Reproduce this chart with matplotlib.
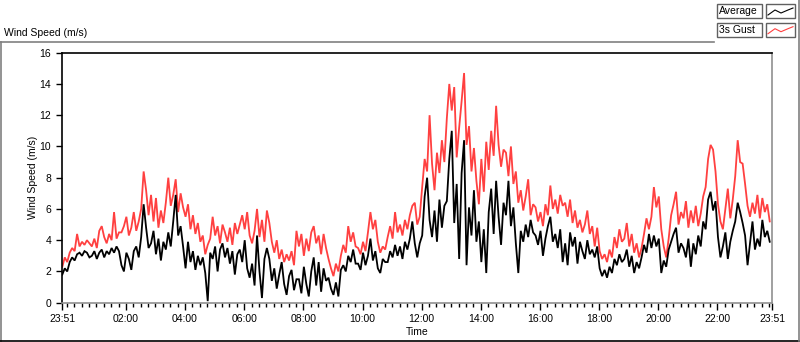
# wind speed chart, average and 3s gust over one day

import matplotlib
matplotlib.use("Agg")
import matplotlib.pyplot as plt
import numpy as np
from matplotlib.lines import Line2D
from matplotlib.patches import Rectangle

# 5 minute samples starting at 23:51, one row per hour
average = [
    1.8, 2.2, 2.0, 2.6, 2.9, 2.7, 3.1, 3.2, 3.0, 3.3, 3.2, 2.9,
    3.0, 3.3, 2.8, 3.2, 3.4, 2.9, 3.3, 3.1, 3.5, 3.2, 3.6, 3.3,
    2.4, 2.0, 3.2, 2.8, 2.1, 3.3, 3.6, 2.9, 4.2, 6.3, 4.8, 3.5,
    3.8, 4.6, 3.1, 4.1, 2.7, 3.9, 3.4, 4.5, 3.6, 5.2, 6.9, 4.3,
    4.9, 3.6, 2.2, 3.9, 2.6, 3.3, 2.1, 3.0, 2.4, 2.9, 1.9, 0.1,
    3.2, 2.8, 3.6, 2.0, 3.4, 3.8, 2.9, 3.5, 2.5, 3.3, 1.8, 3.1,
    3.4, 2.6, 4.0, 2.2, 1.6, 2.5, 1.1, 4.3, 2.0, 0.3, 2.8, 3.5,
    2.8, 1.4, 2.2, 0.9, 1.8, 2.6, 1.2, 0.5, 1.7, 2.1, 0.8, 1.5,
    1.5, 0.6, 2.3, 1.2, 0.4, 2.0, 2.9, 1.1, 2.6, 0.7, 2.2, 1.4,
    1.6, 0.9, 0.5, 1.3, 0.4, 2.1, 2.4, 2.0, 3.0, 2.6, 3.4, 2.5,
    2.5, 2.1, 3.2, 2.4, 3.0, 4.1, 2.7, 3.3, 2.2, 1.9, 2.8, 2.6,
    2.6, 3.3, 2.9, 3.7, 3.0, 3.6, 2.8, 3.9, 3.4, 4.1, 5.2, 3.8,
    2.9, 3.8, 4.3, 6.8, 8.0, 5.3, 4.2, 5.9, 3.9, 6.6, 4.8, 6.2,
    6.5, 9.2, 11.0, 5.1, 7.6, 2.8, 8.3, 10.4, 2.4, 6.1, 4.3, 7.2,
    3.9, 5.2, 2.6, 4.7, 1.9, 5.8, 7.3, 4.4, 7.8, 5.5, 3.7, 6.4,
    5.6, 7.8, 4.9, 6.1, 3.8, 1.9, 4.6, 3.9, 5.0, 4.2, 5.3, 4.5,
    4.3, 3.7, 4.6, 3.0, 4.1, 4.9, 5.5, 3.9, 4.4, 3.5, 4.7, 2.6,
    3.8, 2.4, 4.5, 3.6, 4.2, 2.5, 3.9, 3.3, 2.8, 4.0, 3.1, 3.4,
    2.9, 3.6, 2.2, 1.7, 2.1, 1.6, 2.3, 1.9, 2.8, 2.4, 3.1, 2.6,
    2.8, 3.4, 2.3, 3.0, 1.9, 2.6, 2.2, 2.9, 3.7, 3.2, 4.4, 3.5,
    4.3, 3.6, 4.1, 1.9, 2.7, 2.3, 3.4, 3.9, 4.4, 4.8, 3.2, 3.8,
    3.5, 2.9, 4.1, 2.3, 3.8, 3.1, 4.3, 3.6, 5.2, 4.7, 6.6, 7.1,
    5.9, 6.5, 4.2, 2.9, 3.6, 4.5, 2.8, 3.9, 4.6, 5.2, 6.4, 5.8,
    5.1, 4.3, 2.4, 3.8, 5.2, 3.4, 4.1, 3.6, 5.3, 4.2, 4.6, 3.9,
]

gust = [
    2.3, 2.9, 2.6, 3.2, 3.5, 3.3, 4.4, 3.6, 3.9, 3.7, 4.0, 3.8,
    3.6, 4.1, 3.5, 4.6, 4.9, 4.2, 3.8, 4.4, 4.0, 5.8, 4.1, 4.5,
    4.5, 4.9, 5.5, 4.3, 4.8, 5.8, 4.6, 5.2, 6.0, 8.4, 7.2, 5.6,
    6.9, 5.2, 6.7, 4.8, 5.9, 5.1, 6.4, 8.0, 6.2, 6.9, 7.9, 5.8,
    7.0, 6.1, 5.5, 6.3, 4.7, 5.6, 4.4, 5.1, 3.9, 4.3, 3.1, 3.7,
    4.1, 5.5, 4.3, 4.9, 3.8, 5.0, 4.5, 3.9, 4.8, 3.7, 5.1, 4.4,
    5.0, 5.6, 4.7, 5.8, 4.3, 3.8, 4.6, 6.0, 4.2, 5.3, 3.9, 5.9,
    5.1, 3.9, 3.2, 4.0, 2.8, 3.4, 2.6, 3.1, 2.7, 3.3, 2.4, 4.6,
    3.6, 4.4, 3.0, 4.1, 3.3, 4.5, 4.9, 3.8, 4.3, 3.1, 4.4, 3.5,
    2.8, 2.2, 1.7, 2.5, 2.0, 3.0, 3.7, 3.2, 4.9, 3.9, 4.5, 3.6,
    3.5, 3.1, 3.9, 3.3, 4.5, 5.8, 4.7, 5.3, 3.9, 3.2, 3.6, 3.4,
    4.2, 4.9, 4.1, 5.8, 4.5, 5.0, 4.3, 5.3, 4.7, 5.6, 6.2, 6.4,
    5.0, 5.5, 7.4, 9.2, 8.4, 12.0, 8.9, 7.2, 9.6, 8.3, 10.4, 9.0,
    11.8, 14.0, 12.3, 13.8, 9.3, 11.2, 12.9, 14.7, 10.1, 11.3, 8.4, 9.9,
    7.8, 6.3, 9.2, 7.1, 10.3, 8.5, 11.0, 9.4, 12.6, 10.1, 8.7, 9.8,
    9.6, 8.1, 10.0, 7.6, 8.4, 6.4, 7.2, 5.9, 6.8, 7.9, 5.6, 6.3,
    6.1, 5.2, 5.8, 4.9, 6.3, 5.6, 7.5, 6.0, 6.6, 5.7, 6.9, 6.2,
    6.4, 5.5, 6.6, 5.1, 5.9, 4.8, 5.3, 4.5, 5.0, 5.9, 4.4, 4.9,
    3.6, 4.8, 3.3, 2.8, 3.1, 2.6, 3.4, 2.9, 4.2, 3.5, 4.7, 3.9,
    4.1, 5.1, 3.6, 4.4, 3.2, 3.8, 2.9, 3.5, 4.4, 5.4, 4.7, 5.5,
    7.4, 6.1, 6.8, 4.7, 3.6, 2.9, 4.1, 5.6, 6.3, 7.1, 5.0, 5.8,
    5.4, 6.5, 4.8, 5.9, 5.1, 6.2, 4.9, 5.7, 6.8, 7.4, 9.2, 10.1,
    9.8, 8.4, 6.3, 5.2, 4.7, 6.0, 7.3, 5.4, 6.6, 8.1, 10.4, 9.0,
    8.9, 7.6, 6.2, 5.5, 6.4, 5.7, 6.9, 5.4, 6.7, 5.8, 6.3, 5.2,
]

start_label = "23:51"
time_labels = ["23:51", "02:00", "04:00", "06:00", "08:00", "10:00",
               "12:00", "14:00", "16:00", "18:00", "20:00", "22:00", "23:51"]
y_ticks = [0, 2, 4, 6, 8, 10, 12, 14, 16]
series_names = ["Average", "3s Gust"]
gust_color = "#ff4040"


def to_minutes(label, start):
    h, m = label.split(":")
    sh, sm = start.split(":")
    return (int(h) * 60 + int(m) - int(sh) * 60 - int(sm)) % 1440


W, H = 800, 342
plt.rcParams["font.family"] = ["Liberation Sans", "DejaVu Sans"]
plt.rcParams["font.size"] = 7.5
fig = plt.figure(figsize=(W / 100, H / 100), dpi=100)
fig.patch.set_facecolor("white")


def fx(x):
    return x / W


def fy(y):
    return 1 - y / H


# plot area
ax = fig.add_axes([fx(62.3), fy(302.7), fx(772.2) - fx(62.3), fy(52.7) - fy(302.7)])
t = np.arange(len(average)) * 5.0
ax.plot(t, gust, color=gust_color, lw=1.3, solid_joinstyle="miter")
ax.plot(t, average, color="black", lw=1.3, solid_joinstyle="miter")

ax.set_ylim(0, 16)
ax.set_xlim(0, 1440)
ax.set_yticks(y_ticks)
ax.set_yticklabels([str(v) for v in y_ticks])

major = [to_minutes(s, start_label) for s in time_labels]
major[-1] = 1440
ax.set_xticks(major)
ax.set_xticklabels(time_labels)
minor = [m for m in range(9, 1440, 15) if m not in major]
ax.set_xticks(minor, minor=True)

ax.tick_params(axis="y", direction="out", length=4, width=1, pad=4, labelsize=7.5)
ax.tick_params(axis="x", which="major", direction="out", length=5, width=1, pad=3, labelsize=7.5)
ax.tick_params(axis="x", which="minor", direction="out", length=3, width=1)
ax.set_ylabel("Wind Speed (m/s)", fontsize=7.5, labelpad=1)
ax.set_xlabel("Time", fontsize=7.5, labelpad=2)

for side in ["top", "left"]:
    ax.spines[side].set_color("black")
    ax.spines[side].set_linewidth(1.2)
for side in ["bottom", "right"]:
    ax.spines[side].set_color("#909090")
    ax.spines[side].set_linewidth(1.2)

# chart title
fig.text(fx(4), fy(33), "Wind Speed (m/s)", fontsize=7.5, va="center", ha="left")

# outer frame
fig.add_artist(Line2D([fx(0), fx(714)], [fy(42), fy(42)], color="#808080", lw=1.2))
fig.add_artist(Line2D([fx(1), fx(1)], [fy(42), fy(341)], color="#808080", lw=1.2))
fig.add_artist(Line2D([fx(0), fx(800)], [fy(340.5), fy(340.5)], color="black", lw=1.2))
fig.add_artist(Line2D([fx(799), fx(799)], [fy(0), fy(341)], color="#808080", lw=1.2))

# legend
for i, (name, col) in enumerate(zip(series_names, ["black", gust_color])):
    top = 4 + i * 18.7
    fig.add_artist(Rectangle((fx(717.3), fy(top + 14.3)), fx(45), fy(0) - fy(14.3),
                             fill=False, edgecolor="#606060", lw=1.0))
    fig.text(fx(719), fy(top + 7.3), name, fontsize=7.5, va="center", ha="left")
    fig.add_artist(Rectangle((fx(766), fy(top + 14.3)), fx(29), fy(0) - fy(14.3),
                             fill=False, edgecolor="#606060", lw=1.0))
    zx = [768, 775, 781, 788, 793]
    zy = [top + 11, top + 6, top + 9, top + 6, top + 4]
    fig.add_artist(Line2D([fx(v) for v in zx], [fy(v) for v in zy], color=col, lw=0.8))

fig.savefig("out.png", dpi=100, facecolor="white")
